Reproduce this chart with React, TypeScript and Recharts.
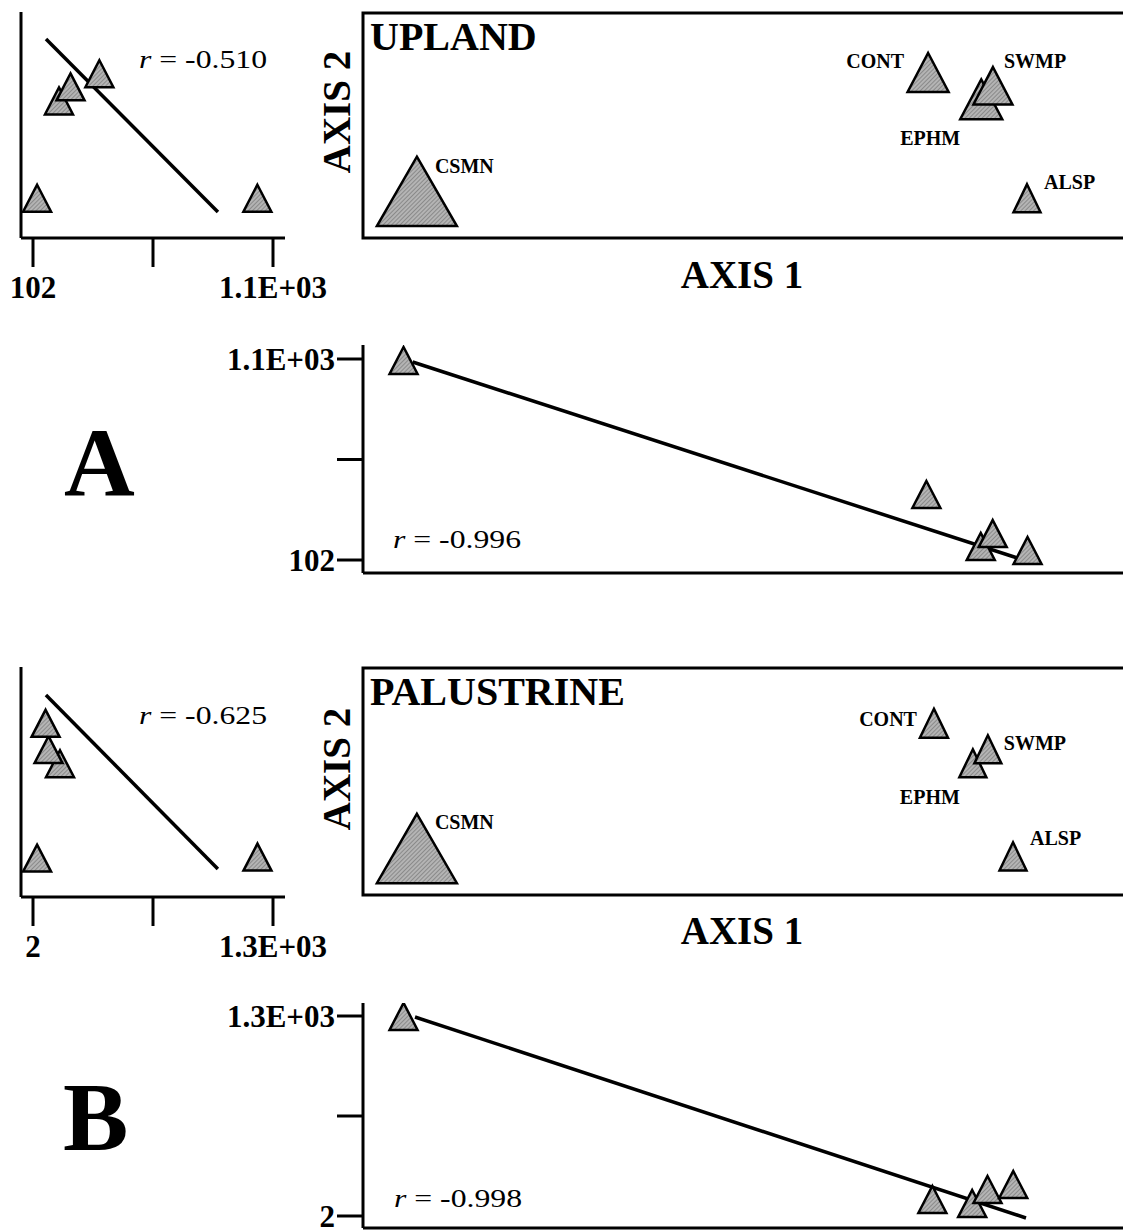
import * as React from 'react';
import { ScatterChart, Scatter, XAxis, YAxis, ZAxis, ReferenceArea } from 'recharts';

// drawing order matters for the overlaps: EPHM under SWMP under CONT
const species = ['CSMN', 'EPHM', 'SWMP', 'CONT', 'ALSP'];

// UPLAND
const uplandAxis1 = [-1.4, 0.82, 0.866, 0.611, 1.0];
const uplandAxis2 = [-0.81, 0.267, 0.422, 0.567, -0.81];
const uplandSymbol = [100, 27.6, 23.8, 26.3, 11.4];
const uplandAbundSide = [1035, 210, 258, 378, 119];
const uplandAbundLower = [1070, 147, 211, 405, 127];
const uplandSideFitX = [156, 871];
const uplandSideFitY = [1.001, -0.912];
const uplandLowerFitX = [-1.365, 0.961];
const uplandLowerFitY = [1085, 112];
const uplandTicks = [102, 601, 1100];
const uplandTickLabels = ['102', '', '1.1E+03'];
const uplandR = ['-0.510', '-0.996'];

// PALUSTRINE
const palAxis1 = [-1.4, 0.787, 0.846, 0.634, 0.945];
const palAxis2 = [-0.815, 0.199, 0.353, 0.639, -0.826];
const palSymbol = [100, 11.4, 11.4, 12.3, 11.4];
const palAbundSide = [1216, 148, 86, 70, 24];
const palAbundLower = [1268, 54, 145, 80, 177];
const palSideFitX = [72, 1002];
const palSideFitY = [0.996, -0.896];
const palLowerFitX = [-1.356, 0.994];
const palLowerFitY = [1293.5, -11];
const palTicks = [2, 651, 1300];
const palTickLabels = ['2', '', '1.3E+03'];
const palR = ['-0.625', '-0.998'];

const FONT = '"Liberation Serif", "Times New Roman", serif';
const FILL = 'url(#hatch)';
const AXIS = { stroke: '#000', strokeWidth: 3 };
const FIT_LINE = { stroke: '#000', strokeWidth: 3.5 };
const TICK = { fill: '#000', fontSize: 31, fontWeight: 700, fontFamily: FONT };
const AXIS2_DOMAIN = [-1.2, 1.3];
const MAIN_X = [-1.612, 1.535];
const LOWER_X = [-1.556, 1.521];

type Pt = { name?: string; x: number; y: number; z?: number };

const zip = (xs: number[], ys: number[], zs?: number[]): Pt[] =>
  species.map((name, i) => ({ name, x: xs[i], y: ys[i], z: zs ? zs[i] : undefined }));
const fitPoints = (xs: number[], ys: number[]): Pt[] => xs.map((x, i) => ({ x, y: ys[i] }));

const triPath = (cx: number, cy: number, w: number, h: number) =>
  `M${cx},${cy - (2 * h) / 3}L${cx + w / 2},${cy + h / 3}L${cx - w / 2},${cy + h / 3}Z`;

const SmallTriangle = (props: any) => {
  const { cx, cy } = props;
  if (cx == null || cy == null) return <g />;
  return <path d={triPath(cx, cy, 28, 27)} fill={FILL} stroke="#000" strokeWidth={2.5} />;
};

const NoMark = () => <g />;

type LabelPos = Record<string, [number, number, 'start' | 'middle' | 'end']>;

const uplandLabelPos: LabelPos = {
  CSMN: [18, -37, 'start'],
  CONT: [-24, -18, 'end'],
  SWMP: [11, -31, 'start'],
  EPHM: [-51, 32, 'middle'],
  ALSP: [17, -21, 'start'],
};
const palLabelPos: LabelPos = {
  CSMN: [18, -38, 'start'],
  CONT: [-17, -9, 'end'],
  SWMP: [16, -11, 'start'],
  EPHM: [-43, 29, 'middle'],
  ALSP: [17, -23, 'start'],
};

const makeMainTriangle = (labelPos: LabelPos) => (props: any) => {
  const { cx, cy, size, payload } = props;
  if (cx == null || cy == null) return <g />;
  const w = Math.sqrt(size ?? payload.z * 64);
  const h = 0.78 * w + 7;
  const [dx, dy, anchor] = labelPos[payload.name];
  return (
    <g>
      <path d={triPath(cx, cy, w, h)} fill={FILL} stroke="#000" strokeWidth={2.5} />
      <text
        x={cx + dx}
        y={cy + dy}
        textAnchor={anchor}
        dominantBaseline="central"
        fontFamily={FONT}
        fontWeight={700}
        fontSize={20}
        fill="#000"
      >
        {payload.name}
      </text>
    </g>
  );
};

type SideProps = {
  top: number;
  plotTop: number;
  plotBottom: number;
  points: Pt[];
  fit: Pt[];
  xDomain: number[];
  ticks: number[];
  tickLabels: string[];
};

const SidePlot = (p: SideProps) => {
  const H = 330;
  return (
    <div style={{ position: 'absolute', left: 0, top: p.top }}>
      <ScatterChart
        width={350}
        height={H}
        margin={{ top: p.plotTop - p.top, right: 65, bottom: 2, left: 20 }}
      >
        <XAxis
          type="number"
          dataKey="x"
          domain={p.xDomain}
          allowDataOverflow
          ticks={p.ticks}
          interval={0}
          tickFormatter={(v: number) => p.tickLabels[p.ticks.indexOf(v)] ?? ''}
          height={p.top + H - 2 - p.plotBottom}
          tickSize={29}
          tickMargin={9}
          axisLine={AXIS}
          tickLine={AXIS}
          tick={TICK}
        />
        <YAxis
          type="number"
          dataKey="y"
          domain={AXIS2_DOMAIN}
          allowDataOverflow
          width={1}
          tick={false}
          tickLine={false}
          axisLine={AXIS}
        />
        <Scatter data={p.fit} line={FIT_LINE} shape={NoMark} isAnimationActive={false} />
        <Scatter data={p.points} shape={SmallTriangle} isAnimationActive={false} />
      </ScatterChart>
    </div>
  );
};

type MainProps = {
  top: number;
  plotTop: number;
  plotBottom: number;
  points: Pt[];
  labelPos: LabelPos;
};

const MainPlot = (p: MainProps) => {
  const H = 260;
  return (
    <div style={{ position: 'absolute', left: 340, top: p.top }}>
      <ScatterChart
        width={840}
        height={H}
        margin={{ top: p.plotTop - p.top, right: 17, bottom: p.top + H - p.plotBottom, left: 23 }}
      >
        <XAxis type="number" dataKey="x" domain={MAIN_X} allowDataOverflow hide />
        <YAxis type="number" dataKey="y" domain={AXIS2_DOMAIN} allowDataOverflow hide />
        <ZAxis type="number" dataKey="z" domain={[0, 100]} range={[0, 6400]} />
        <ReferenceArea
          x1={MAIN_X[0]}
          x2={MAIN_X[1]}
          y1={AXIS2_DOMAIN[0]}
          y2={AXIS2_DOMAIN[1]}
          fill="none"
          stroke="#000"
          strokeWidth={3}
          ifOverflow="visible"
        />
        <Scatter data={p.points} shape={makeMainTriangle(p.labelPos)} isAnimationActive={false} />
      </ScatterChart>
    </div>
  );
};

type LowerProps = {
  top: number;
  height: number;
  plotTop: number;
  plotBottom: number;
  points: Pt[];
  fit: Pt[];
  yDomain: number[];
  ticks: number[];
  tickLabels: string[];
};

const LowerPlot = (p: LowerProps) => (
  <div style={{ position: 'absolute', left: 200, top: p.top }}>
    <ScatterChart
      width={980}
      height={p.height}
      margin={{ top: p.plotTop - p.top, right: 17, bottom: p.top + p.height - p.plotBottom - 1, left: 3 }}
    >
      <XAxis
        type="number"
        dataKey="x"
        domain={LOWER_X}
        allowDataOverflow
        height={1}
        tick={false}
        tickLine={false}
        axisLine={AXIS}
      />
      <YAxis
        type="number"
        dataKey="y"
        domain={p.yDomain}
        allowDataOverflow
        ticks={p.ticks}
        interval={0}
        tickFormatter={(v: number) => p.tickLabels[p.ticks.indexOf(v)] ?? ''}
        width={160}
        tickSize={26}
        tickMargin={2}
        axisLine={AXIS}
        tickLine={AXIS}
        tick={TICK}
      />
      <Scatter data={p.fit} line={FIT_LINE} shape={NoMark} isAnimationActive={false} />
      <Scatter data={p.points} shape={SmallTriangle} isAnimationActive={false} />
    </ScatterChart>
  </div>
);

const RLabel = ({ x, y, value }: { x: number; y: number; value: string }) => (
  <text x={x} y={y} fontSize={26} fontFamily={FONT} fill="#000" textLength={128} lengthAdjust="spacingAndGlyphs">
    <tspan fontStyle="italic">r</tspan>
    {' = ' + value}
  </text>
);

const bold = { fontFamily: FONT, fontWeight: 700, fill: '#000' } as const;

export default function App() {
  return (
    <div
      style={{
        position: 'relative',
        width: 1123,
        height: 1231,
        overflow: 'hidden',
        background: '#fff',
        fontFamily: FONT,
      }}
    >
      <style>{'body{margin:0}'}</style>

      {/* shared fill for every triangle: the grey hatch of the original print */}
      <svg width={0} height={0} style={{ position: 'absolute' }}>
        <defs>
          <pattern id="hatch" width={3} height={3} patternUnits="userSpaceOnUse" patternTransform="rotate(45)">
            <rect width={3} height={3} fill="#b4b4b4" />
            <line x1={0} y1={0} x2={0} y2={3} stroke="#6e6e6e" strokeWidth={1.2} />
          </pattern>
        </defs>
      </svg>

      {/* A: upland */}
      <SidePlot
        top={0}
        plotTop={12}
        plotBottom={238}
        points={zip(uplandAbundSide, uplandAxis2)}
        fit={fitPoints(uplandSideFitX, uplandSideFitY)}
        xDomain={[52.1, 1149.9]}
        ticks={uplandTicks}
        tickLabels={uplandTickLabels}
      />
      <MainPlot
        top={0}
        plotTop={13}
        plotBottom={238}
        points={zip(uplandAxis1, uplandAxis2, uplandSymbol)}
        labelPos={uplandLabelPos}
      />
      <LowerPlot
        top={330}
        height={260}
        plotTop={345}
        plotBottom={573}
        points={zip(uplandAxis1, uplandAbundLower)}
        fit={fitPoints(uplandLowerFitX, uplandLowerFitY)}
        yDomain={[37.5, 1169.5]}
        ticks={uplandTicks}
        tickLabels={uplandTickLabels}
      />

      {/* B: palustrine */}
      <SidePlot
        top={650}
        plotTop={667}
        plotBottom={897}
        points={zip(palAbundSide, palAxis2)}
        fit={fitPoints(palSideFitX, palSideFitY)}
        xDomain={[-62.9, 1364.9]}
        ticks={palTicks}
        tickLabels={palTickLabels}
      />
      <MainPlot
        top={650}
        plotTop={668}
        plotBottom={895}
        points={zip(palAxis1, palAxis2, palSymbol)}
        labelPos={palLabelPos}
      />
      <LowerPlot
        top={990}
        height={241}
        plotTop={1003}
        plotBottom={1228}
        points={zip(palAxis1, palAbundLower)}
        fit={fitPoints(palLowerFitX, palLowerFitY)}
        yDomain={[-75.9, 1384.4]}
        ticks={palTicks}
        tickLabels={palTickLabels}
      />

      <svg
        width={1123}
        height={1231}
        style={{ position: 'absolute', left: 0, top: 0, pointerEvents: 'none' }}
      >
        <text x={370} y={50} fontSize={40} {...bold}>UPLAND</text>
        <text x={370} y={705} fontSize={40} {...bold}>PALUSTRINE</text>

        <text x={742} y={288} fontSize={39} textAnchor="middle" {...bold}>AXIS 1</text>
        <text x={742} y={944} fontSize={39} textAnchor="middle" {...bold}>AXIS 1</text>

        <text x={350} y={112} fontSize={39} textAnchor="middle" transform="rotate(-90 350 112)" {...bold}>
          AXIS 2
        </text>
        <text x={350} y={769} fontSize={39} textAnchor="middle" transform="rotate(-90 350 769)" {...bold}>
          AXIS 2
        </text>

        <text x={64} y={495} fontSize={98} {...bold}>A</text>
        <text x={63} y={1150} fontSize={98} {...bold}>B</text>

        <RLabel x={139} y={68} value={uplandR[0]} />
        <RLabel x={393} y={548} value={uplandR[1]} />
        <RLabel x={139} y={724} value={palR[0]} />
        <RLabel x={394} y={1207} value={palR[1]} />
      </svg>
    </div>
  );
}
